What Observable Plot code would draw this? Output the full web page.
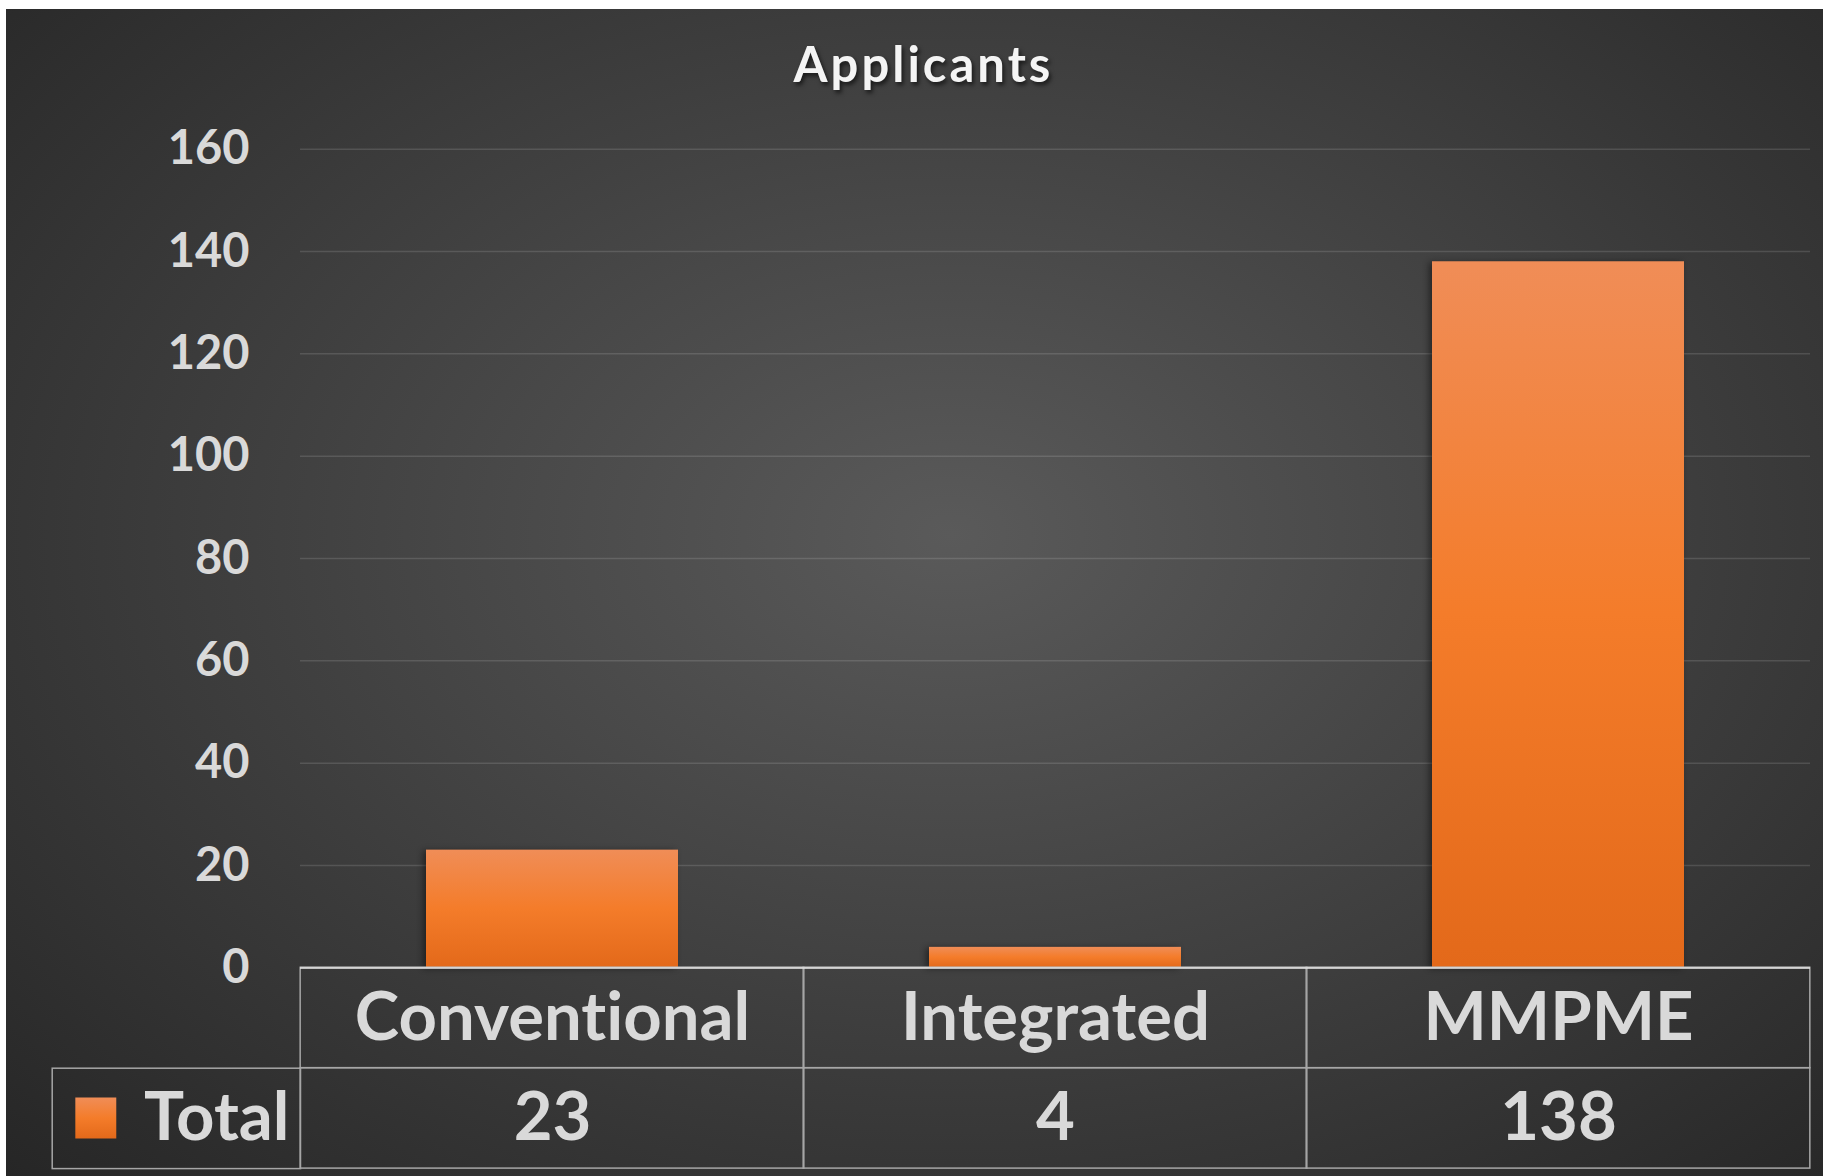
<!DOCTYPE html>
<html>
<head>
<meta charset="utf-8">
<script src="https://cdn.jsdelivr.net/npm/d3@7"></script>
<script src="https://cdn.jsdelivr.net/npm/@observablehq/plot@0.6"></script>
<style>
  html, body { margin: 0; padding: 0; background: #ffffff; }
  #chart { padding: 9px 0 0 6px; }
  #chart svg text { font-variant-ligatures: none; font-feature-settings: "liga" 0, "clig" 0; }
</style>
</head>
<body>
<div id="chart"></div>
<script>
const title = "Applicants";
const seriesName = "Total";
const categories = ["Conventional", "Integrated", "MMPME"];
const totals = [23, 4, 138];
const yTicks = [0, 20, 40, 60, 80, 100, 120, 140, 160];

const data = categories.map((c, i) => ({category: c, total: totals[i]}));

const W = 1817, H = 1167;
const mT = 139.7, mB = 208.7, mL = 294, mR = 13;
const plotH = H - mT - mB;
const rowH = 100.4;
const step = (W - mL - mR) / categories.length;
const half = step / 4;
const textColor = "#d9d9d9";
const lineColor = "#a6a6a6";

const defs = () => {
  const d = d3.create("svg:defs");
  d.html(`
    <linearGradient id="barGrad" x1="0" y1="0" x2="0" y2="1">
      <stop offset="0" stop-color="#f08d57"/>
      <stop offset="0.5" stop-color="#f47c2a"/>
      <stop offset="1" stop-color="#e3691a"/>
    </linearGradient>`);
  return d.node();
};

const chart = Plot.plot({
  width: W,
  height: H,
  marginTop: mT,
  marginBottom: mB,
  marginLeft: mL,
  marginRight: mR,
  style: {
    fontFamily: "Lato, 'Open Sans', sans-serif",
    background: "radial-gradient(ellipse farthest-corner at 52% 45%, #5a5a5a 0%, #484848 35%, #262626 100%)",
    color: textColor,
    overflow: "visible"
  },
  x: {domain: categories, paddingInner: 0.5, paddingOuter: 0.25, axis: null},
  y: {domain: [0, 160]},
  marks: [
    defs,
    Plot.gridY(yTicks, {stroke: "#ffffff", strokeOpacity: 0.13, strokeWidth: 1.5}),
    Plot.axisY(yTicks, {tickSize: 0, tickPadding: 51, fontSize: 47, fontWeight: "bold", fill: textColor, tickFormat: d => String(d), label: null}),
    Plot.barY(data, {x: "category", y: "total", fill: "url(#barGrad)"}),
    // data table: category row
    Plot.cell(categories, {x: d => d, insetLeft: -half, insetRight: -half, insetTop: plotH, insetBottom: -rowH, fill: "none", stroke: lineColor, strokeWidth: 1.5}),
    // data table: value row
    Plot.cell(categories, {x: d => d, insetLeft: -half, insetRight: -half, insetTop: plotH + rowH, insetBottom: -2 * rowH, fill: "none", stroke: lineColor, strokeWidth: 1.5}),
    // series label cell
    Plot.frame({insetLeft: -(mL - 45.7), insetRight: W - mL - mR, insetTop: plotH + rowH, insetBottom: -2 * rowH, stroke: lineColor, strokeWidth: 1.5}),
    Plot.ruleY([0], {stroke: "#e0e0e0", strokeOpacity: 0.8, strokeWidth: 2.2}),
    Plot.text(categories, {x: d => d, frameAnchor: "bottom", lineAnchor: "middle", dy: 51, fontSize: 67, fontWeight: "bold", fill: textColor}),
    Plot.text(data, {x: "category", text: d => String(d.total), frameAnchor: "bottom", lineAnchor: "middle", dy: 151, fontSize: 67, fontWeight: "bold", fill: textColor}),
    Plot.dot([seriesName], {frameAnchor: "bottom-left", dx: -204.7, dy: 150.2, symbol: "square", r: 23.1, fill: "url(#barGrad)", stroke: "none"}),
    Plot.text([seriesName], {frameAnchor: "bottom-left", lineAnchor: "middle", textAnchor: "end", dx: -11, dy: 151, fontSize: 67, fontWeight: "bold", fill: textColor}),
    Plot.text([title], {frameAnchor: "top", lineAnchor: "middle", dx: -132, dy: -82.7, fontSize: 49, fontWeight: "bold", fill: "#f4f4f4"})
  ]
});

const svg = d3.select(chart);
svg.style("display", "block");
svg.selectAll('g[aria-label="bar"] rect')
  .style("filter", "drop-shadow(-3px 1px 3px rgba(0,0,0,0.45))");
svg.selectAll("text")
  .filter(function () { return this.textContent === title; })
  .style("letter-spacing", "3px")
  .style("filter", "drop-shadow(2px 3px 2px rgba(0,0,0,0.6))");

document.getElementById("chart").appendChild(chart);
</script>
</body>
</html>
